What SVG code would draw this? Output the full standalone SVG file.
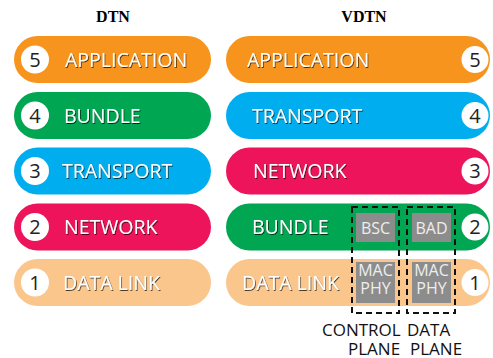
<svg xmlns="http://www.w3.org/2000/svg" width="493" height="358" viewBox="0 0 493 358">
<defs>
<filter id="sh" x="-10%" y="-20%" width="120%" height="150%">
<feDropShadow dx="0.8" dy="1" stdDeviation="0.6" flood-color="#000" flood-opacity="0.7"/>
</filter>
</defs>
<style>
.title{font-family:"Liberation Serif",serif;font-weight:bold;font-size:16px;fill:#000;text-anchor:middle}
.lbl{font-family:"Open Sans",sans-serif;font-size:19.5px;fill:#fff;filter:url(#sh)}
.num{font-family:"Open Sans",sans-serif;font-size:20px;fill:#222;text-anchor:middle}
.circ{fill:#fff}
.box{fill:#8c8c8c}
.bt{font-family:"Open Sans",sans-serif;font-size:16px;fill:#eee;text-anchor:middle}
.dash{fill:none;stroke:#111;stroke-width:2;stroke-dasharray:6,4}
.cap{font-family:"Open Sans",sans-serif;font-size:17px;fill:#111}
.o{fill:#F7941D}.g{fill:#00A651}.b{fill:#00AEEF}.r{fill:#ED145B}.l{fill:#FBC68C}
</style>
<text class="title" x="113" y="22">DTN</text>
<text class="title" x="364" y="22">VDTN</text>
<g id="dtn-application"><rect class="o" x="14" y="36" width="197" height="47" rx="23.5"/><circle class="circ" cx="35" cy="59.5" r="14"/><text class="num" x="35" y="66.5">5</text><text class="lbl" x="65" y="66.5">APPLICATION</text></g>
<g id="dtn-bundle"><rect class="g" x="14" y="92" width="197" height="47" rx="23.5"/><circle class="circ" cx="35" cy="115.5" r="14"/><text class="num" x="35" y="122.5">4</text><text class="lbl" x="64" y="122.5">BUNDLE</text></g>
<g id="dtn-transport"><rect class="b" x="14" y="147.5" width="197" height="47" rx="23.5"/><circle class="circ" cx="35" cy="171" r="14"/><text class="num" x="35" y="178">3</text><text class="lbl" x="62" y="178">TRANSPORT</text></g>
<g id="dtn-network"><rect class="r" x="14" y="203.5" width="197" height="47" rx="23.5"/><circle class="circ" cx="35" cy="227" r="14"/><text class="num" x="35" y="234">2</text><text class="lbl" x="64" y="234">NETWORK</text></g>
<g id="dtn-datalink"><rect class="l" x="14" y="259" width="197" height="47" rx="23.5"/><circle class="circ" cx="35" cy="282.5" r="14"/><text class="num" x="35" y="289.5">1</text><text class="lbl" x="63" y="289.5">DATA LINK</text></g>
<g id="vdtn-application"><rect class="o" x="226" y="36" width="264" height="47" rx="23.5"/><circle class="circ" cx="475" cy="59.5" r="13.5"/><text class="num" x="475" y="66.5">5</text><text class="lbl" x="247" y="66.5">APPLICATION</text></g>
<g id="vdtn-transport"><rect class="b" x="226" y="92" width="264" height="47" rx="23.5"/><circle class="circ" cx="475" cy="115.5" r="13.5"/><text class="num" x="475" y="122.5">4</text><text class="lbl" x="252" y="122.5">TRANSPORT</text></g>
<g id="vdtn-network"><rect class="r" x="226" y="147.5" width="264" height="47" rx="23.5"/><circle class="circ" cx="475" cy="171" r="13.5"/><text class="num" x="475" y="178">3</text><text class="lbl" x="253" y="178">NETWORK</text></g>
<g id="vdtn-bundle"><rect class="g" x="226" y="203.5" width="264" height="47" rx="23.5"/><circle class="circ" cx="475" cy="227" r="13.5"/><text class="num" x="475" y="234">2</text><text class="lbl" x="252" y="234">BUNDLE</text></g>
<g id="vdtn-datalink"><rect class="l" x="226" y="259" width="264" height="47" rx="23.5"/><circle class="circ" cx="475" cy="282.5" r="13.5"/><text class="num" x="475" y="289.5">1</text><text class="lbl" x="242" y="289.5">DATA LINK</text></g>
<g id="bsc"><rect class="box" x="356" y="213" width="39" height="29"/><text class="bt" x="375.5" y="233.5">BSC</text></g>
<g id="bad"><rect class="box" x="412" y="213" width="39" height="29"/><text class="bt" x="431.5" y="233.5">BAD</text></g>
<g id="mac-phy-control"><rect class="box" x="356" y="262" width="39" height="41"/><text class="bt" x="375.5" y="276">MAC</text><text class="bt" x="375.5" y="294">PHY</text></g>
<g id="mac-phy-data"><rect class="box" x="412" y="262" width="39" height="41"/><text class="bt" x="431.5" y="276">MAC</text><text class="bt" x="431.5" y="294">PHY</text></g>
<g id="control-plane"><rect class="dash" x="352" y="207" width="47" height="106"/><text class="cap" x="322" y="336">CONTROL</text><text class="cap" x="348" y="355">PLANE</text></g>
<g id="data-plane"><rect class="dash" x="407" y="207" width="48" height="106"/><text class="cap" x="407" y="336">DATA</text><text class="cap" x="410" y="355">PLANE</text></g>
<g id="connectors"></g>
</svg>
